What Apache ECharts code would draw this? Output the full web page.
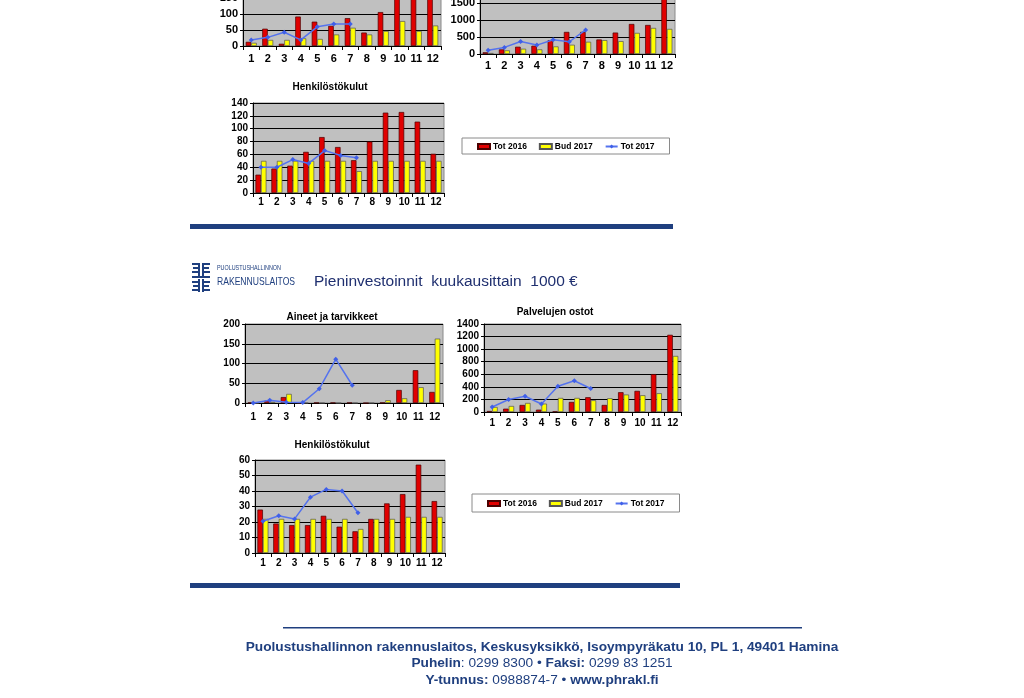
<!DOCTYPE html>
<html>
<head>
<meta charset="utf-8">
<script src="https://cdn.jsdelivr.net/npm/echarts@6/dist/echarts.min.js"></script>
<style>
html,body{margin:0;padding:0;background:#fff;overflow:hidden;width:1024px;height:698px;}
#c{position:absolute;left:0;top:-40px;width:1024px;height:738px;}
</style>
</head>
<body>
<div id="c"></div>
<script>
// ---- data ----
const months = ['1','2','3','4','5','6','7','8','9','10','11','12'];
const seriesNames = ['Tot 2016','Bud 2017','Tot 2017'];

// top-left (cut) chart
const aTot2016 = [13,54,7,92,76,63,87,42,106,185,175,190];
const aBud2017 = [10,19,19,24,22,36,57,36,47,78,47,64];
const aTot2017 = [19,27,43,19,60,69,69];
// top-right (cut) chart
const bTot2016 = [50,136,214,243,408,650,650,427,630,883,854,1900];
const bBud2017 = [30,107,155,136,223,272,360,408,379,621,767,738];
const bTot2017 = [107,194,369,262,417,360,708];
// Henkilöstökulut (top)
const cTot2016 = [28.5,38,42.5,64,87,71.5,51,80,125,126,111,61];
const cBud2017 = [50,50,50,50,50,50,34,50,50,50,50,50];
const cTot2017 = [40,40,52,46,66,58.5,55];
// Aineet ja tarvikkeet
const dTot2016 = [1,6,15,0,1,1,1,0,1,33,83,28];
const dBud2017 = [0,3,23,0,0,0,0,0,7,12,40,163];
const dTot2017 = [0,7,2,1,36,111,45];
// Palvelujen ostot
const eTot2016 = [16,53,112,37,10,160,235,112,315,336,603,1228];
const eBud2017 = [80,96,144,133,224,224,187,219,278,267,299,892];
const eTot2017 = [80,198,251,128,411,497,374];
// Henkilöstökulut (bottom)
const fTot2016 = [28,19,18,18,24,17,14,22,32,38,57,33.5];
const fBud2017 = [22,22,22,22,22,22,15.5,22,22,23.3,23.3,23.3];
const fTot2017 = [20.5,24,22,36,41,40,26];

const chartTitles = ['', '', 'Henkilöstökulut', 'Aineet ja tarvikkeet', 'Palvelujen ostot', 'Henkilöstökulut'];
const footer1 = 'Puolustushallinnon rakennuslaitos, Keskusyksikkö, Isoympyräkatu 10, PL 1, 49401 Hamina';

// ---- layout ----
const OFF = 40;
const Y = v => v + OFF;
const FONT = '"Liberation Sans", Arial, sans-serif';
const NAVY = '#1F3F7F';

const charts = [
  {grid:{left:243,top:Y(-18),width:198,height:64}, max:200, interval:50, fs:11, xm:7, data:[aTot2016,aBud2017,aTot2017]},
  {grid:{left:480,top:Y(-14),width:195,height:68}, max:2000, interval:500, fs:11, xm:6, data:[bTot2016,bBud2017,bTot2017]},
  {grid:{left:253,top:Y(103),width:191,height:90}, max:140, interval:20, fs:10, xm:4, data:[cTot2016,cBud2017,cTot2017], title:[330,Y(87)]},
  {grid:{left:245,top:Y(324),width:198,height:79}, max:200, interval:50, fs:10, xm:9, data:[dTot2016,dBud2017,dTot2017], title:[332,Y(317)]},
  {grid:{left:484,top:Y(324),width:197,height:88}, max:1400, interval:200, fs:10, xm:6, data:[eTot2016,eBud2017,eTot2017], title:[555,Y(312)]},
  {grid:{left:255,top:Y(460),width:190,height:93}, max:60, interval:10, fs:10, xm:5, data:[fTot2016,fBud2017,fTot2017], title:[332,Y(445)]}
];

const grids = [], xAxes = [], yAxes = [], series = [];
charts.forEach((c, i) => {
  grids.push(Object.assign({show:true, backgroundColor:'#C0C0C0', borderColor:'#8a8a8a', borderWidth:1}, c.grid));
  xAxes.push({
    gridIndex:i, type:'category', data:months, boundaryGap:true,
    axisLine:{show:true, lineStyle:{color:'#000', width:1}},
    axisTick:{show:true, interval:0, length:4, lineStyle:{color:'#000'}},
    axisLabel:{interval:0, fontSize:c.fs, fontWeight:'bold', color:'#000', margin:c.xm, fontFamily:FONT},
    splitLine:{show:false}
  });
  yAxes.push({
    gridIndex:i, type:'value', min:0, max:c.max, interval:c.interval,
    axisLine:{show:true, lineStyle:{color:'#000', width:1}},
    axisTick:{show:true, length:3, lineStyle:{color:'#000'}},
    axisLabel:{fontSize:c.fs, fontWeight:'bold', color:'#000', margin:5, fontFamily:FONT, formatter: v => String(v)},
    splitLine:{show:true, lineStyle:{color:'#000', width:1}}
  });
  series.push({
    name:seriesNames[0], type:'bar', xAxisIndex:i, yAxisIndex:i, data:c.data[0],
    barWidth:5.5, barGap:'0%',
    itemStyle:{color:'#E00000', borderColor:'#4a0000', borderWidth:0.7}
  });
  series.push({
    name:seriesNames[1], type:'bar', xAxisIndex:i, yAxisIndex:i, data:c.data[1],
    barWidth:5.5, barGap:'0%',
    itemStyle:{color:'#FFFF00', borderColor:'#555', borderWidth:0.7}
  });
  series.push({
    name:seriesNames[2], type:'line', xAxisIndex:i, yAxisIndex:i, data:c.data[2],
    symbol:'diamond', symbolSize:5, z:5,
    lineStyle:{color:'#5573EE', width:1.5},
    itemStyle:{color:'#3F5FE8'}
  });
});

function legendAt(left, top, h) {
  return {
    left:left, top:top, orient:'horizontal',
    data:[{name:seriesNames[0], icon:'rect'}, {name:seriesNames[1], icon:'rect'}, {name:seriesNames[2]}],
    selectedMode:false,
    backgroundColor:'#fff', borderColor:'#8a8a8a', borderWidth:1,
    padding:[h,15,h-1,15], itemGap:12, itemWidth:12, itemHeight:5,
    textStyle:{fontSize:8.5, fontWeight:'bold', color:'#000', fontFamily:FONT, padding:[0,0,0,-2]}
  };
}

const graphics = [];
// chart titles
charts.forEach((c, i) => {
  if (c.title) {
    graphics.push({type:'text', x:c.title[0], y:c.title[1], style:{
      text:chartTitles[i], font:'bold 10px ' + FONT, fill:'#000', align:'center', verticalAlign:'middle'}});
  }
});
// separator bars
graphics.push({type:'rect', shape:{x:190, y:Y(224), width:483, height:5}, style:{fill:NAVY}});
graphics.push({type:'rect', shape:{x:190, y:Y(583), width:490, height:5}, style:{fill:NAVY}});
graphics.push({type:'rect', shape:{x:283, y:Y(627), width:519, height:1.5}, style:{fill:NAVY}});

// logo (approximation with rectangles)
const L = [];
function lr(x, y, w, h){ L.push({type:'rect', shape:{x:x, y:Y(y), width:w, height:h}, style:{fill:NAVY}}); }
lr(192,263,7,2); lr(193,267,6,2); lr(192,271,7,2); lr(198,263,2,13);
lr(202,263,2,13); lr(203,263,7,2); lr(203,267,6,2); lr(203,271,7,2);
lr(192,276,18,2);
lr(198,279,2,13); lr(192,281,7,2); lr(193,285,6,2); lr(192,289,7,2);
lr(202,279,2,13); lr(203,281,7,2); lr(203,285,6,2); lr(203,289,7,2);
graphics.push(...L);
graphics.push({type:'text', x:217, y:Y(268), scaleX:0.72, originX:0, originY:0,
  style:{text:'PUOLUSTUSHALLINNON', font:'7.5px ' + FONT, fill:NAVY, verticalAlign:'middle'}});
graphics.push({type:'text', x:217, y:Y(282), scaleX:0.78, originX:0, originY:0,
  style:{text:'RAKENNUSLAITOS', font:'11px ' + FONT, fill:NAVY, verticalAlign:'middle'}});
graphics.push({type:'text', x:314, y:Y(282), style:{text:'Pieninvestoinnit  kuukausittain  1000 €', font:'15.5px ' + FONT, fill:'#1F2F6F', verticalAlign:'middle'}});

// footer
const FS = '13.7px ';
graphics.push({type:'text', x:542, y:Y(647), style:{text:footer1, font:'bold ' + FS + FONT, fill:NAVY, align:'center', verticalAlign:'middle'}});
graphics.push({type:'text', x:542, y:Y(663), style:{
  text:'{b|Puhelin}{n|: 0299 8300 • }{b|Faksi:}{n| 0299 83 1251}',
  align:'center', verticalAlign:'middle',
  rich:{b:{font:'bold ' + FS + FONT, fill:NAVY}, n:{font:FS + FONT, fill:NAVY}}}});
graphics.push({type:'text', x:542, y:Y(680), style:{
  text:'{b|Y-tunnus:}{n| 0988874-7 • }{b|www.phrakl.fi}',
  align:'center', verticalAlign:'middle',
  rich:{b:{font:'bold ' + FS + FONT, fill:NAVY}, n:{font:FS + FONT, fill:NAVY}}}});

const chart = echarts.init(document.getElementById('c'), null, {renderer:'canvas'});
chart.setOption({
  animation:false,
  backgroundColor:'#fff',
  textStyle:{fontFamily:FONT},
  grid:grids, xAxis:xAxes, yAxis:yAxes, series:series,
  legend:[legendAt(462, Y(138), 4), legendAt(472, Y(494), 5)],
  graphic:graphics
});
</script>
</body>
</html>
